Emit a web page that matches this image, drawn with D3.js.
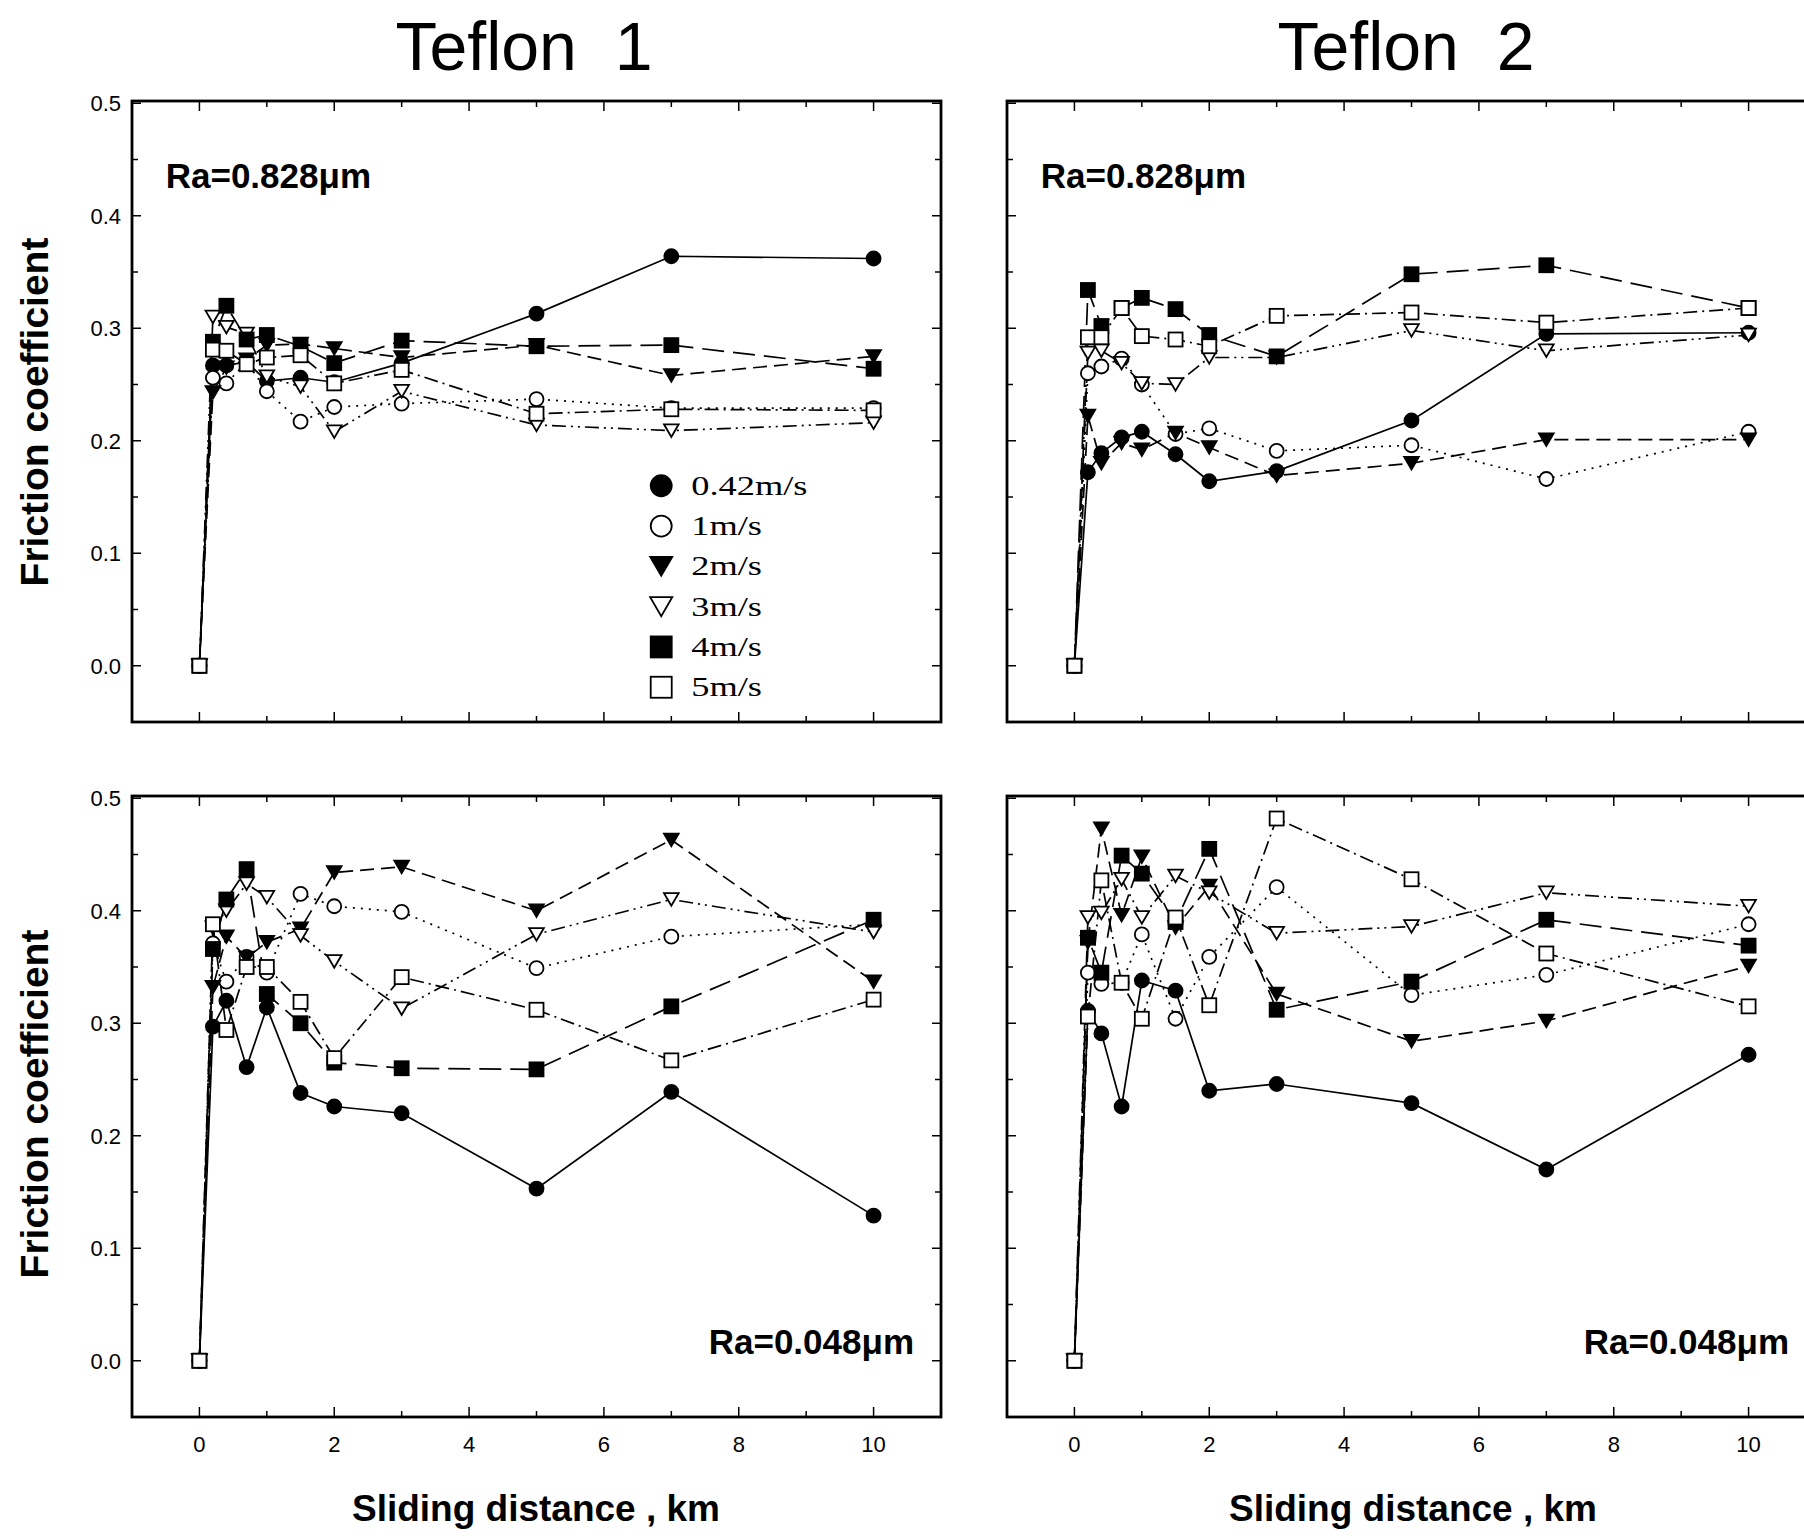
<!DOCTYPE html>
<html>
<head>
<meta charset="utf-8">
<title>Friction coefficient vs sliding distance</title>
<script src="https://d3js.org/d3.v7.min.js"></script>
<style>
  body { margin: 0; background: #fff; }
  text { font-family: "Liberation Sans", Arial, sans-serif; fill: #000; }
</style>
</head>
<body>
<div id="chart"></div>
<script>
// sliding distance (km), same for every series
var distance = [0, 0.2, 0.4, 0.7, 1, 1.5, 2, 3, 5, 7, 10];
var speeds = ["0.42m/s", "1m/s", "2m/s", "3m/s", "4m/s", "5m/s"];
var xTicks = [0, 2, 4, 6, 8, 10];
var yTicks = [0.0, 0.1, 0.2, 0.3, 0.4, 0.5];
var panelTitles = ["Teflon  1", "Teflon  2"];
var raLabels = ["Ra=0.828\u03bcm", "Ra=0.048\u03bcm"];

// friction coefficient, one row per speed (0.42, 1, 2, 3, 4, 5 m/s)
var teflon1Rough = [
  [0, 0.267, 0.267, 0.270, 0.253, 0.256, 0.252, 0.269, 0.313, 0.364, 0.362],
  [0, 0.256, 0.251, 0.270, 0.244, 0.217, 0.230, 0.233, 0.237, 0.229, 0.229],
  [0, 0.243, 0.265, 0.272, 0.285, 0.286, 0.282, 0.274, 0.285, 0.258, 0.275],
  [0, 0.310, 0.301, 0.295, 0.257, 0.248, 0.208, 0.244, 0.214, 0.209, 0.216],
  [0, 0.288, 0.320, 0.290, 0.294, 0.284, 0.269, 0.289, 0.284, 0.285, 0.264],
  [0, 0.281, 0.280, 0.268, 0.274, 0.276, 0.251, 0.263, 0.224, 0.228, 0.227]
];
var teflon2Rough = [
  [0, 0.172, 0.189, 0.203, 0.208, 0.188, 0.164, 0.173, 0.218, 0.295, 0.296],
  [0, 0.260, 0.266, 0.273, 0.250, 0.206, 0.211, 0.191, 0.196, 0.166, 0.208],
  [0, 0.222, 0.180, 0.198, 0.192, 0.207, 0.194, 0.169, 0.180, 0.201, 0.201],
  [0, 0.278, 0.280, 0.269, 0.251, 0.250, 0.274, 0.274, 0.298, 0.280, 0.294],
  [0, 0.334, 0.302, 0.318, 0.327, 0.317, 0.294, 0.275, 0.348, 0.356, 0.318],
  [0, 0.292, 0.292, 0.318, 0.293, 0.290, 0.284, 0.311, 0.314, 0.305, 0.318]
];
var teflon1Smooth = [
  [0, 0.297, 0.320, 0.261, 0.314, 0.238, 0.226, 0.220, 0.153, 0.239, 0.129],
  [0, 0.371, 0.337, 0.359, 0.345, 0.415, 0.404, 0.399, 0.349, 0.377, 0.388],
  [0, 0.332, 0.377, 0.358, 0.372, 0.384, 0.434, 0.439, 0.400, 0.463, 0.337],
  [0, 0.385, 0.400, 0.424, 0.412, 0.378, 0.355, 0.313, 0.379, 0.410, 0.381],
  [0, 0.366, 0.410, 0.437, 0.326, 0.300, 0.265, 0.260, 0.259, 0.315, 0.392],
  [0, 0.388, 0.294, 0.350, 0.350, 0.319, 0.269, 0.341, 0.312, 0.267, 0.321]
];
var teflon2Smooth = [
  [0, 0.311, 0.291, 0.226, 0.338, 0.329, 0.240, 0.246, 0.229, 0.170, 0.272],
  [0, 0.345, 0.335, 0.336, 0.379, 0.304, 0.359, 0.421, 0.325, 0.343, 0.388],
  [0, 0.372, 0.473, 0.396, 0.448, 0.385, 0.422, 0.326, 0.284, 0.302, 0.351],
  [0, 0.394, 0.398, 0.428, 0.394, 0.431, 0.416, 0.380, 0.386, 0.416, 0.404],
  [0, 0.376, 0.345, 0.449, 0.433, 0.390, 0.455, 0.312, 0.337, 0.392, 0.369],
  [0, 0.306, 0.427, 0.336, 0.304, 0.394, 0.316, 0.482, 0.428, 0.362, 0.315]
];

var shapes = ["circle", "circle", "tri", "tri", "square", "square"];
var filled = [true, false, true, false, true, false];
var dashes = [null, "2,6", "14,7", "14,5,2,5,2,5", "22,9", "14,5,2,5"];

var W = 1804, H = 1536;
var svg = d3.select("#chart").append("svg")
  .attr("width", W).attr("height", H)
  .style("background", "#fff");

// panel boxes
var cols = [{left: 132, right: 941}, {left: 1007, right: 1816}];
var rows = [{top: 101, bottom: 722}, {top: 796, bottom: 1417}];

function drawMarker(g, i, cx, cy, size) {
  var fill = filled[i] ? "#000" : "#fff";
  if (shapes[i] == "circle") {
    g.append("circle").attr("cx", cx).attr("cy", cy).attr("r", size / 2)
      .attr("fill", fill).attr("stroke", "#000").attr("stroke-width", 1.8);
  } else if (shapes[i] == "square") {
    g.append("rect").attr("x", cx - size / 2).attr("y", cy - size / 2)
      .attr("width", size).attr("height", size)
      .attr("fill", fill).attr("stroke", "#000").attr("stroke-width", 1.8);
  } else {
    var h = size * 0.9, w = size * 1.05;
    g.append("path")
      .attr("d", "M" + (cx - w / 2) + "," + (cy - h / 2) + "L" + (cx + w / 2) + "," + (cy - h / 2) + "L" + cx + "," + (cy + h / 2) + "Z")
      .attr("fill", fill).attr("stroke", "#000").attr("stroke-width", 1.8);
  }
}

function drawPanel(col, row, data, showYLabels, showXLabels, raText, raRight) {
  var c = cols[col], r = rows[row];
  var x = d3.scaleLinear().domain([-1, 11]).range([c.left, c.right]);
  var y = d3.scaleLinear().domain([-0.05, 0.502]).range([r.bottom, r.top]);
  var g = svg.append("g");

  // frame
  g.append("rect").attr("x", c.left).attr("y", r.top)
    .attr("width", c.right - c.left).attr("height", r.bottom - r.top)
    .attr("fill", "none").attr("stroke", "#000").attr("stroke-width", 2.8);

  // ticks, inward on all sides
  d3.range(0, 11, 1).forEach(function(v) {
    var len = v % 2 == 0 ? 10 : 6;
    g.append("line").attr("x1", x(v)).attr("x2", x(v)).attr("y1", r.bottom).attr("y2", r.bottom - len)
      .attr("stroke", "#000").attr("stroke-width", 1.5);
    g.append("line").attr("x1", x(v)).attr("x2", x(v)).attr("y1", r.top).attr("y2", r.top + len)
      .attr("stroke", "#000").attr("stroke-width", 1.5);
  });
  d3.range(0, 11, 1).forEach(function(k) {
    var v = k * 0.05;
    var len = k % 2 == 0 ? 9 : 6;
    g.append("line").attr("x1", c.left).attr("x2", c.left + len).attr("y1", y(v)).attr("y2", y(v))
      .attr("stroke", "#000").attr("stroke-width", 1.5);
    g.append("line").attr("x1", c.right).attr("x2", c.right - len).attr("y1", y(v)).attr("y2", y(v))
      .attr("stroke", "#000").attr("stroke-width", 1.5);
  });

  if (showYLabels) {
    yTicks.forEach(function(v) {
      g.append("text").attr("x", c.left - 11).attr("y", y(v) + 8)
        .attr("text-anchor", "end").attr("font-size", 22)
        .text(d3.format(".1f")(v));
    });
  }
  if (showXLabels) {
    xTicks.forEach(function(v) {
      g.append("text").attr("x", x(v)).attr("y", r.bottom + 35)
        .attr("text-anchor", "middle").attr("font-size", 22)
        .text(v);
    });
  }

  // lines
  var line = d3.line().x(function(d) { return x(d[0]); }).y(function(d) { return y(d[1]); });
  data.forEach(function(vals, i) {
    var pts = distance.map(function(d, j) { return [d, vals[j]]; });
    g.append("path").datum(pts).attr("d", line)
      .attr("fill", "none").attr("stroke", "#000").attr("stroke-width", 1.7)
      .attr("stroke-dasharray", dashes[i]);
  });
  // markers
  data.forEach(function(vals, i) {
    distance.forEach(function(d, j) {
      drawMarker(g, i, x(d), y(vals[j]), 14);
    });
  });

  // Ra label
  var ra = g.append("text").attr("font-size", 35).attr("font-weight", "bold").text(raText);
  if (raRight) {
    ra.attr("x", x(10.6)).attr("y", y(0.006)).attr("text-anchor", "end");
  } else {
    ra.attr("x", x(-0.5)).attr("y", y(0.425));
  }
  return {x: x, y: y, g: g};
}

var p1 = drawPanel(0, 0, teflon1Rough, true, false, raLabels[0], false);
drawPanel(1, 0, teflon2Rough, false, false, raLabels[0], false);
drawPanel(0, 1, teflon1Smooth, true, true, raLabels[1], true);
drawPanel(1, 1, teflon2Smooth, false, true, raLabels[1], true);

// legend in the first panel
speeds.forEach(function(s, i) {
  var ly = p1.y(0.16) + i * 40.3;
  var lx = p1.x(6.85);
  drawMarker(p1.g, i, lx, ly, 21);
  p1.g.append("text")
    .attr("transform", "translate(" + (lx + 30) + "," + (ly + 9) + ") scale(1.3,1)")
    .style("font-family", "'Liberation Serif', 'Times New Roman', serif")
    .attr("font-size", 28).text(s);
});

// titles
panelTitles.forEach(function(t, i) {
  var cx = i == 0 ? 524 : 1406;
  svg.append("text").attr("x", cx).attr("y", 70)
    .attr("text-anchor", "middle").attr("font-size", 68)
    .style("white-space", "pre").text(t);
  svg.append("text").attr("x", i == 0 ? 536 : 1413).attr("y", 1521)
    .attr("text-anchor", "middle").attr("font-size", 37).attr("font-weight", "bold")
    .text("Sliding distance , km");
});

// y axis titles
[412, 1104].forEach(function(cy) {
  svg.append("text")
    .attr("transform", "translate(48," + cy + ") rotate(-90)")
    .attr("text-anchor", "middle").attr("font-size", 39).attr("font-weight", "bold")
    .text("Friction coefficient");
});
</script>
</body>
</html>
